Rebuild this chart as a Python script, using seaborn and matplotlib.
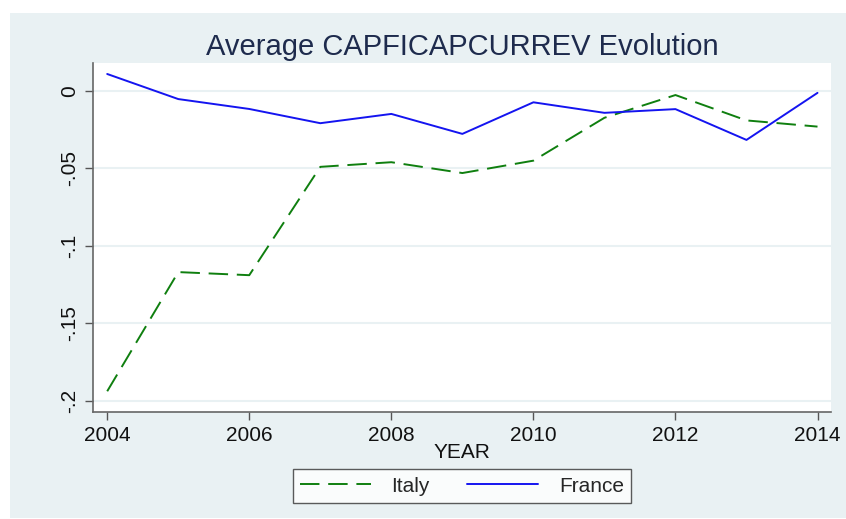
import pandas as pd
import matplotlib.pyplot as plt
import seaborn as sns
from matplotlib.patches import Rectangle
from matplotlib.lines import Line2D

# Values
years = [2004, 2005, 2006, 2007, 2008, 2009, 2010, 2011, 2012, 2013, 2014]
italy = [-0.194, -0.117, -0.119, -0.049, -0.046, -0.053, -0.045, -0.0173, -0.0026, -0.019, -0.023]
france = [0.011, -0.0052, -0.0116, -0.0208, -0.0148, -0.0277, -0.0073, -0.0141, -0.0117, -0.0316, -0.0012]
x_ticks = [2004, 2006, 2008, 2010, 2012, 2014]
y_ticks = [0, -0.05, -0.1, -0.15, -0.2]
y_labels = ['0', '-.05', '-.1', '-.15', '-.2']

df = pd.DataFrame({
    'YEAR': years * 2,
    'value': italy + france,
    'country': ['Italy'] * len(years) + ['France'] * len(years),
})

sns.set_theme(style='white')
plt.rcParams['font.family'] = ['Liberation Sans', 'DejaVu Sans']

bg = '#e9f1f3'
green = '#0f7f0f'
blue = '#1414f0'
dash = (10, 4.5)

fig = plt.figure(figsize=(8.46, 5.19), dpi=100)
fig.patch.set_facecolor('white')
# Stata-like outer panel
fig.patches.append(Rectangle((10 / 846, 1 / 519), 836 / 846, 505 / 519,
                             transform=fig.transFigure, facecolor=bg,
                             edgecolor='none', zorder=-1))

ax = fig.add_axes([93 / 846, 107 / 519, 738 / 846, 349 / 519])
ax.set_facecolor('white')

for y in y_ticks:
    ax.axhline(y, color=bg, lw=1.5, zorder=0)

sns.lineplot(data=df, x='YEAR', y='value', hue='country', style='country',
             palette={'Italy': green, 'France': blue},
             dashes={'Italy': dash, 'France': ''},
             hue_order=['Italy', 'France'], style_order=['Italy', 'France'],
             lw=1.4, ax=ax, legend=False)

ax.set_xlim(2003.80, 2014.19)
ax.set_ylim(-0.2074, 0.0181)
ax.set_xticks(x_ticks)
ax.set_xticklabels([str(t) for t in x_ticks], fontsize=15)
ax.set_yticks(y_ticks)
ax.set_yticklabels(y_labels, fontsize=15, rotation=90, va='center')
ax.tick_params(axis='both', direction='out', length=6, width=1, color='#555555',
               labelcolor='#111111', pad=4, bottom=True, left=True)

for side in ['top', 'right']:
    ax.spines[side].set_visible(False)
for side in ['left', 'bottom']:
    ax.spines[side].set_color('#666666')
    ax.spines[side].set_linewidth(1.2)

ax.set_xlabel('YEAR', fontsize=15, color='#111111', labelpad=-1)
ax.set_ylabel('')
ax.set_title('Average CAPFICAPCURREV Evolution', fontsize=21, color='#1e2b4d', pad=6)

# legend box below the plot
handles = [Line2D([], [], color=green, lw=1.4, dashes=dash),
           Line2D([], [], color=blue, lw=1.4)]
leg = fig.legend(handles, ['Italy', 'France'], loc='center',
                 bbox_to_anchor=(462 / 846, 1 - 486 / 519), ncol=2, fontsize=15,
                 frameon=True, fancybox=False, handlelength=3.4, columnspacing=1.8,
                 borderpad=0.35, handletextpad=1.0)
leg.get_frame().set_edgecolor('#333333')
leg.get_frame().set_linewidth(1.0)
leg.get_frame().set_facecolor('white')

fig.savefig('out.png', dpi=100, facecolor=fig.get_facecolor())
